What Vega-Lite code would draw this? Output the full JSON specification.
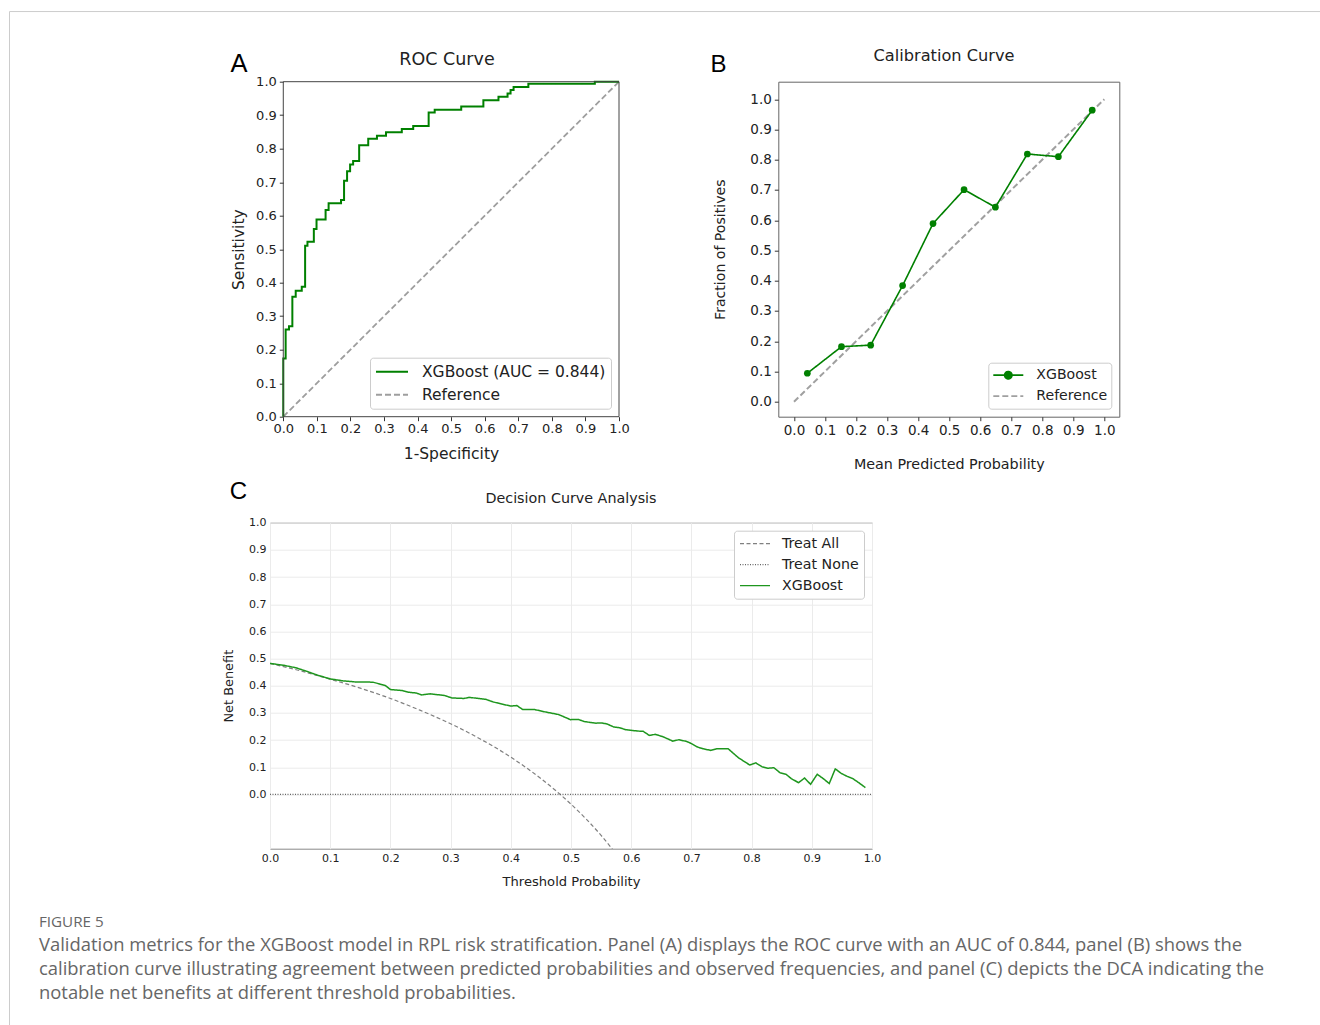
{
  "$schema": "https://vega.github.io/schema/vega-lite/v6.json",
  "autosize": {"type": "none"},
  "padding": {"left": 270, "top": 81.7, "right": 1050, "bottom": 943.3},
  "background": "white",
  "bounds": "flush",
  "spacing": 441,
  "resolve": {
    "scale": {"x": "independent", "y": "independent", "color": "independent", "strokeDash": "independent"},
    "legend": {"color": "independent", "strokeDash": "independent"}
  },
  "title": {
    "text": "FIGURE 5",
    "subtitle": [
      "Validation metrics for the XGBoost model in RPL risk stratification. Panel (A) displays the ROC curve with an AUC of 0.844, panel (B) shows the",
      "calibration curve illustrating agreement between predicted probabilities and observed frequencies, and panel (C) depicts the DCA indicating the",
      "notable net benefits at different threshold probabilities."
    ],
    "orient": "bottom",
    "anchor": "start",
    "frame": "group",
    "dx": -231,
    "offset": -115.5,
    "font": "Open Sans",
    "fontSize": 15.2,
    "fontWeight": "normal",
    "color": "#666666",
    "subtitleFont": "Open Sans",
    "subtitleFontSize": 18.4,
    "subtitleColor": "#666666",
    "subtitleLineHeight": 24,
    "subtitlePadding": 5
  },
  "config": {
    "view": {"stroke": null},
    "font": "DejaVu Sans",
    "axis": {
      "labelFont": "DejaVu Sans", "titleFont": "DejaVu Sans", "titleFontWeight": "normal",
      "labelColor": "#222222", "titleColor": "#222222", "grid": false,
      "labelFlush": false, "labelOverlap": false, "labelBound": false,
      "tickColor": "#333333", "domainColor": "#333333", "tickWidth": 1
    },
    "legend": {"labelFont": "DejaVu Sans", "labelColor": "#222222", "labelLimit": 400}
  },
  "datasets": {
    "roc": [
      {"fpr": 0, "tpr": 0, "series": "XGBoost (AUC = 0.844)"},
      {"fpr": 0, "tpr": 0.174, "series": "XGBoost (AUC = 0.844)"},
      {"fpr": 0.007, "tpr": 0.26, "series": "XGBoost (AUC = 0.844)"},
      {"fpr": 0.017, "tpr": 0.27, "series": "XGBoost (AUC = 0.844)"},
      {"fpr": 0.027, "tpr": 0.358, "series": "XGBoost (AUC = 0.844)"},
      {"fpr": 0.037, "tpr": 0.376, "series": "XGBoost (AUC = 0.844)"},
      {"fpr": 0.055, "tpr": 0.388, "series": "XGBoost (AUC = 0.844)"},
      {"fpr": 0.065, "tpr": 0.51, "series": "XGBoost (AUC = 0.844)"},
      {"fpr": 0.072, "tpr": 0.522, "series": "XGBoost (AUC = 0.844)"},
      {"fpr": 0.091, "tpr": 0.56, "series": "XGBoost (AUC = 0.844)"},
      {"fpr": 0.099, "tpr": 0.589, "series": "XGBoost (AUC = 0.844)"},
      {"fpr": 0.126, "tpr": 0.617, "series": "XGBoost (AUC = 0.844)"},
      {"fpr": 0.135, "tpr": 0.637, "series": "XGBoost (AUC = 0.844)"},
      {"fpr": 0.172, "tpr": 0.647, "series": "XGBoost (AUC = 0.844)"},
      {"fpr": 0.181, "tpr": 0.704, "series": "XGBoost (AUC = 0.844)"},
      {"fpr": 0.19, "tpr": 0.733, "series": "XGBoost (AUC = 0.844)"},
      {"fpr": 0.199, "tpr": 0.753, "series": "XGBoost (AUC = 0.844)"},
      {"fpr": 0.208, "tpr": 0.763, "series": "XGBoost (AUC = 0.844)"},
      {"fpr": 0.226, "tpr": 0.81, "series": "XGBoost (AUC = 0.844)"},
      {"fpr": 0.253, "tpr": 0.83, "series": "XGBoost (AUC = 0.844)"},
      {"fpr": 0.279, "tpr": 0.839, "series": "XGBoost (AUC = 0.844)"},
      {"fpr": 0.306, "tpr": 0.849, "series": "XGBoost (AUC = 0.844)"},
      {"fpr": 0.353, "tpr": 0.859, "series": "XGBoost (AUC = 0.844)"},
      {"fpr": 0.387, "tpr": 0.868, "series": "XGBoost (AUC = 0.844)"},
      {"fpr": 0.433, "tpr": 0.908, "series": "XGBoost (AUC = 0.844)"},
      {"fpr": 0.451, "tpr": 0.916, "series": "XGBoost (AUC = 0.844)"},
      {"fpr": 0.53, "tpr": 0.926, "series": "XGBoost (AUC = 0.844)"},
      {"fpr": 0.596, "tpr": 0.945, "series": "XGBoost (AUC = 0.844)"},
      {"fpr": 0.641, "tpr": 0.955, "series": "XGBoost (AUC = 0.844)"},
      {"fpr": 0.668, "tpr": 0.965, "series": "XGBoost (AUC = 0.844)"},
      {"fpr": 0.677, "tpr": 0.975, "series": "XGBoost (AUC = 0.844)"},
      {"fpr": 0.686, "tpr": 0.984, "series": "XGBoost (AUC = 0.844)"},
      {"fpr": 0.73, "tpr": 0.994, "series": "XGBoost (AUC = 0.844)"},
      {"fpr": 0.928, "tpr": 1.0, "series": "XGBoost (AUC = 0.844)"},
      {"fpr": 1.0, "tpr": 1.0, "series": "XGBoost (AUC = 0.844)"}
    ],
    "rocRef": [
      {"fpr": 0, "tpr": 0, "series": "Reference"},
      {"fpr": 1, "tpr": 1, "series": "Reference"}
    ],
    "cal": [
      {"p": 0.043, "f": 0.094, "series": "XGBoost"},
      {"p": 0.153, "f": 0.182, "series": "XGBoost"},
      {"p": 0.247, "f": 0.187, "series": "XGBoost"},
      {"p": 0.350, "f": 0.384, "series": "XGBoost"},
      {"p": 0.448, "f": 0.589, "series": "XGBoost"},
      {"p": 0.548, "f": 0.701, "series": "XGBoost"},
      {"p": 0.649, "f": 0.643, "series": "XGBoost"},
      {"p": 0.752, "f": 0.819, "series": "XGBoost"},
      {"p": 0.852, "f": 0.810, "series": "XGBoost"},
      {"p": 0.961, "f": 0.964, "series": "XGBoost"}
    ],
    "calRef": [
      {"p": 0, "f": 0, "series": "Reference"},
      {"p": 1, "f": 1, "series": "Reference"}
    ],
    "dcaAll": [
      {"pt": 0, "nb": 0.482, "series": "Treat All"},
      {"pt": 0.05, "nb": 0.455, "series": "Treat All"},
      {"pt": 0.1, "nb": 0.424, "series": "Treat All"},
      {"pt": 0.15, "nb": 0.391, "series": "Treat All"},
      {"pt": 0.2, "nb": 0.353, "series": "Treat All"},
      {"pt": 0.25, "nb": 0.309, "series": "Treat All"},
      {"pt": 0.3, "nb": 0.26, "series": "Treat All"},
      {"pt": 0.35, "nb": 0.203, "series": "Treat All"},
      {"pt": 0.4, "nb": 0.137, "series": "Treat All"},
      {"pt": 0.45, "nb": 0.058, "series": "Treat All"},
      {"pt": 0.5, "nb": -0.036, "series": "Treat All"},
      {"pt": 0.55, "nb": -0.151, "series": "Treat All"},
      {"pt": 0.57, "nb": -0.205, "series": "Treat All"}
    ],
    "dcaNone": [
      {"pt": 0, "nb": 0, "series": "Treat None"},
      {"pt": 1, "nb": 0, "series": "Treat None"}
    ],
    "dcaModel": [
      {"pt": 0, "nb": 0.482, "series": "XGBoost"},
      {"pt": 0.023, "nb": 0.475, "series": "XGBoost"},
      {"pt": 0.043, "nb": 0.466, "series": "XGBoost"},
      {"pt": 0.061, "nb": 0.453, "series": "XGBoost"},
      {"pt": 0.08, "nb": 0.438, "series": "XGBoost"},
      {"pt": 0.1, "nb": 0.425, "series": "XGBoost"},
      {"pt": 0.121, "nb": 0.418, "series": "XGBoost"},
      {"pt": 0.141, "nb": 0.414, "series": "XGBoost"},
      {"pt": 0.171, "nb": 0.413, "series": "XGBoost"},
      {"pt": 0.181, "nb": 0.407, "series": "XGBoost"},
      {"pt": 0.192, "nb": 0.400, "series": "XGBoost"},
      {"pt": 0.2, "nb": 0.386, "series": "XGBoost"},
      {"pt": 0.22, "nb": 0.382, "series": "XGBoost"},
      {"pt": 0.23, "nb": 0.376, "series": "XGBoost"},
      {"pt": 0.243, "nb": 0.373, "series": "XGBoost"},
      {"pt": 0.252, "nb": 0.366, "series": "XGBoost"},
      {"pt": 0.266, "nb": 0.370, "series": "XGBoost"},
      {"pt": 0.29, "nb": 0.364, "series": "XGBoost"},
      {"pt": 0.302, "nb": 0.355, "series": "XGBoost"},
      {"pt": 0.322, "nb": 0.353, "series": "XGBoost"},
      {"pt": 0.331, "nb": 0.357, "series": "XGBoost"},
      {"pt": 0.358, "nb": 0.350, "series": "XGBoost"},
      {"pt": 0.371, "nb": 0.340, "series": "XGBoost"},
      {"pt": 0.39, "nb": 0.330, "series": "XGBoost"},
      {"pt": 0.4, "nb": 0.325, "series": "XGBoost"},
      {"pt": 0.41, "nb": 0.327, "series": "XGBoost"},
      {"pt": 0.42, "nb": 0.312, "series": "XGBoost"},
      {"pt": 0.44, "nb": 0.312, "series": "XGBoost"},
      {"pt": 0.456, "nb": 0.304, "series": "XGBoost"},
      {"pt": 0.479, "nb": 0.294, "series": "XGBoost"},
      {"pt": 0.492, "nb": 0.282, "series": "XGBoost"},
      {"pt": 0.499, "nb": 0.275, "series": "XGBoost"},
      {"pt": 0.512, "nb": 0.276, "series": "XGBoost"},
      {"pt": 0.522, "nb": 0.268, "series": "XGBoost"},
      {"pt": 0.541, "nb": 0.262, "series": "XGBoost"},
      {"pt": 0.551, "nb": 0.263, "series": "XGBoost"},
      {"pt": 0.56, "nb": 0.259, "series": "XGBoost"},
      {"pt": 0.571, "nb": 0.248, "series": "XGBoost"},
      {"pt": 0.581, "nb": 0.245, "series": "XGBoost"},
      {"pt": 0.591, "nb": 0.238, "series": "XGBoost"},
      {"pt": 0.611, "nb": 0.233, "series": "XGBoost"},
      {"pt": 0.62, "nb": 0.232, "series": "XGBoost"},
      {"pt": 0.63, "nb": 0.217, "series": "XGBoost"},
      {"pt": 0.64, "nb": 0.221, "series": "XGBoost"},
      {"pt": 0.653, "nb": 0.212, "series": "XGBoost"},
      {"pt": 0.669, "nb": 0.196, "series": "XGBoost"},
      {"pt": 0.679, "nb": 0.201, "series": "XGBoost"},
      {"pt": 0.692, "nb": 0.195, "series": "XGBoost"},
      {"pt": 0.699, "nb": 0.188, "series": "XGBoost"},
      {"pt": 0.709, "nb": 0.175, "series": "XGBoost"},
      {"pt": 0.719, "nb": 0.168, "series": "XGBoost"},
      {"pt": 0.732, "nb": 0.162, "series": "XGBoost"},
      {"pt": 0.742, "nb": 0.168, "series": "XGBoost"},
      {"pt": 0.761, "nb": 0.168, "series": "XGBoost"},
      {"pt": 0.778, "nb": 0.135, "series": "XGBoost"},
      {"pt": 0.797, "nb": 0.108, "series": "XGBoost"},
      {"pt": 0.807, "nb": 0.116, "series": "XGBoost"},
      {"pt": 0.817, "nb": 0.102, "series": "XGBoost"},
      {"pt": 0.827, "nb": 0.096, "series": "XGBoost"},
      {"pt": 0.837, "nb": 0.098, "series": "XGBoost"},
      {"pt": 0.847, "nb": 0.080, "series": "XGBoost"},
      {"pt": 0.857, "nb": 0.074, "series": "XGBoost"},
      {"pt": 0.866, "nb": 0.058, "series": "XGBoost"},
      {"pt": 0.878, "nb": 0.043, "series": "XGBoost"},
      {"pt": 0.888, "nb": 0.060, "series": "XGBoost"},
      {"pt": 0.898, "nb": 0.037, "series": "XGBoost"},
      {"pt": 0.909, "nb": 0.074, "series": "XGBoost"},
      {"pt": 0.919, "nb": 0.058, "series": "XGBoost"},
      {"pt": 0.929, "nb": 0.040, "series": "XGBoost"},
      {"pt": 0.939, "nb": 0.094, "series": "XGBoost"},
      {"pt": 0.949, "nb": 0.077, "series": "XGBoost"},
      {"pt": 0.958, "nb": 0.067, "series": "XGBoost"},
      {"pt": 0.968, "nb": 0.058, "series": "XGBoost"},
      {"pt": 0.978, "nb": 0.043, "series": "XGBoost"},
      {"pt": 0.989, "nb": 0.025, "series": "XGBoost"}
    ]
  },
  "vconcat": [
    {
      "bounds": "flush",
      "spacing": 159.3,
      "resolve": {
        "scale": {"x": "independent", "y": "independent", "color": "independent", "strokeDash": "independent"},
        "legend": {"color": "independent", "strokeDash": "independent"}
      },
      "hconcat": [
        {
          "width": 349,
          "height": 335,
          "layer": [
            {
              "data": {"name": "rocRef"},
              "mark": {"type": "line", "strokeWidth": 1.8},
              "encoding": {
                "x": {"field": "fpr", "type": "quantitative",
                  "scale": {"domain": [-0.0396, 1], "nice": false, "zero": false},
                  "axis": {"values": [0, 0.1, 0.2, 0.3, 0.4, 0.5, 0.6, 0.7, 0.8, 0.9, 1.0], "format": ".1f", "domain": false,
                    "tickSize": 4, "labelFontSize": 13, "labelPadding": 2, "title": "1-Specificity", "titleFontSize": 15.5, "titlePadding": 11, "titleX": 181}},
                "y": {"field": "tpr", "type": "quantitative",
                  "scale": {"domain": [0, 1], "nice": false, "zero": false},
                  "axis": {"values": [0, 0.1, 0.2, 0.3, 0.4, 0.5, 0.6, 0.7, 0.8, 0.9, 1.0], "format": ".1f", "domain": false, "offset": -13.3,
                    "tickSize": 4, "labelFontSize": 13, "labelPadding": 3, "title": "Sensitivity", "titleFontSize": 15.5, "titlePadding": 9}},
                "color": {"field": "series", "type": "nominal",
                  "scale": {"domain": ["XGBoost (AUC = 0.844)", "Reference"], "range": ["#008000", "#9e9e9e"]},
                  "legend": {"title": null, "orient": "bottom-right", "offset": 8, "fillColor": "white", "strokeColor": "#cccccc", "cornerRadius": 3,
                    "padding": 5, "symbolType": "stroke", "symbolSize": 1024, "symbolStrokeWidth": 2, "clipHeight": 18, "rowPadding": 5,
                    "labelFontSize": 15.5, "labelOffset": 13}},
                "strokeDash": {"field": "series", "type": "nominal",
                  "scale": {"domain": ["XGBoost (AUC = 0.844)", "Reference"], "range": [[1, 0], [6, 3]]},
                  "legend": {"title": null, "orient": "bottom-right", "offset": 8, "fillColor": "white", "strokeColor": "#cccccc", "cornerRadius": 3,
                    "padding": 5, "symbolType": "stroke", "symbolSize": 1024, "symbolStrokeWidth": 2, "clipHeight": 18, "rowPadding": 5,
                    "labelFontSize": 15.5, "labelOffset": 13}}
              }
            },
            {
              "data": {"name": "roc"},
              "mark": {"type": "line", "interpolate": "step-after", "strokeWidth": 2},
              "encoding": {
                "x": {"field": "fpr", "type": "quantitative",
                  "scale": {"domain": [-0.0396, 1], "nice": false, "zero": false},
                  "axis": {"values": [0, 0.1, 0.2, 0.3, 0.4, 0.5, 0.6, 0.7, 0.8, 0.9, 1.0], "format": ".1f", "domain": false,
                    "tickSize": 4, "labelFontSize": 13, "labelPadding": 2, "title": "1-Specificity", "titleFontSize": 15.5, "titlePadding": 11, "titleX": 181}},
                "y": {"field": "tpr", "type": "quantitative",
                  "scale": {"domain": [0, 1], "nice": false, "zero": false},
                  "axis": {"values": [0, 0.1, 0.2, 0.3, 0.4, 0.5, 0.6, 0.7, 0.8, 0.9, 1.0], "format": ".1f", "domain": false, "offset": -13.3,
                    "tickSize": 4, "labelFontSize": 13, "labelPadding": 3, "title": "Sensitivity", "titleFontSize": 15.5, "titlePadding": 9}},
                "color": {"field": "series", "type": "nominal"},
                "strokeDash": {"field": "series", "type": "nominal"}
              }
            },
            {
              "data": {"values": [{"part": "frame"}]},
              "mark": {"type": "rect", "fill": "transparent", "stroke": "#444444", "strokeWidth": 1},
              "encoding": {
                "x": {"datum": 0, "type": "quantitative",
                  "scale": {"domain": [-0.0396, 1], "nice": false, "zero": false},
                  "axis": {"values": [0, 0.1, 0.2, 0.3, 0.4, 0.5, 0.6, 0.7, 0.8, 0.9, 1.0], "format": ".1f", "domain": false,
                    "tickSize": 4, "labelFontSize": 13, "labelPadding": 2, "title": "1-Specificity", "titleFontSize": 15.5, "titlePadding": 11, "titleX": 181}},
                "x2": {"datum": 1},
                "y": {"datum": 0, "type": "quantitative",
                  "scale": {"domain": [0, 1], "nice": false, "zero": false},
                  "axis": {"values": [0, 0.1, 0.2, 0.3, 0.4, 0.5, 0.6, 0.7, 0.8, 0.9, 1.0], "format": ".1f", "domain": false, "offset": -13.3,
                    "tickSize": 4, "labelFontSize": 13, "labelPadding": 3, "title": "Sensitivity", "titleFontSize": 15.5, "titlePadding": 9}},
                "y2": {"datum": 1}
              }
            },
            {
              "data": {"values": [{"label": "A"}]},
              "mark": {"type": "text", "font": "Liberation Sans", "fontSize": 25.5, "color": "#000000", "align": "center", "baseline": "middle"},
              "encoding": {
                "text": {"field": "label"},
                "x": {"datum": -0.132, "type": "quantitative",
                  "scale": {"domain": [-0.0396, 1], "nice": false, "zero": false},
                  "axis": {"values": [0, 0.1, 0.2, 0.3, 0.4, 0.5, 0.6, 0.7, 0.8, 0.9, 1.0], "format": ".1f", "domain": false,
                    "tickSize": 4, "labelFontSize": 13, "labelPadding": 2, "title": "1-Specificity", "titleFontSize": 15.5, "titlePadding": 11, "titleX": 181}},
                "y": {"datum": 1.0528, "type": "quantitative",
                  "scale": {"domain": [0, 1], "nice": false, "zero": false},
                  "axis": {"values": [0, 0.1, 0.2, 0.3, 0.4, 0.5, 0.6, 0.7, 0.8, 0.9, 1.0], "format": ".1f", "domain": false, "offset": -13.3,
                    "tickSize": 4, "labelFontSize": 13, "labelPadding": 3, "title": "Sensitivity", "titleFontSize": 15.5, "titlePadding": 9}}
              }
            },
            {
              "data": {"values": [{"label": "ROC Curve"}]},
              "mark": {"type": "text", "font": "DejaVu Sans", "fontSize": 17.5, "color": "#222222", "align": "center", "baseline": "middle"},
              "encoding": {
                "text": {"field": "label"},
                "x": {"datum": 0.4877, "type": "quantitative",
                  "scale": {"domain": [-0.0396, 1], "nice": false, "zero": false},
                  "axis": {"values": [0, 0.1, 0.2, 0.3, 0.4, 0.5, 0.6, 0.7, 0.8, 0.9, 1.0], "format": ".1f", "domain": false,
                    "tickSize": 4, "labelFontSize": 13, "labelPadding": 2, "title": "1-Specificity", "titleFontSize": 15.5, "titlePadding": 11, "titleX": 181}},
                "y": {"datum": 1.0648, "type": "quantitative",
                  "scale": {"domain": [0, 1], "nice": false, "zero": false},
                  "axis": {"values": [0, 0.1, 0.2, 0.3, 0.4, 0.5, 0.6, 0.7, 0.8, 0.9, 1.0], "format": ".1f", "domain": false, "offset": -13.3,
                    "tickSize": 4, "labelFontSize": 13, "labelPadding": 3, "title": "Sensitivity", "titleFontSize": 15.5, "titlePadding": 9}}
              }
            }
          ]
        },
        {
          "width": 341,
          "height": 335,
          "view": {"stroke": "#666666", "strokeWidth": 1},
          "layer": [
            {
              "data": {"name": "calRef"},
              "mark": {"type": "line", "strokeWidth": 2},
              "encoding": {
                "x": {"field": "p", "type": "quantitative",
                  "scale": {"domain": [-0.0506, 1.0483], "nice": false, "zero": false},
                  "axis": {"values": [0, 0.1, 0.2, 0.3, 0.4, 0.5, 0.6, 0.7, 0.8, 0.9, 1.0], "format": ".1f", "domain": false,
                    "tickSize": 4, "labelFontSize": 13.5, "labelPadding": 3, "title": "Mean Predicted Probability", "titleFontSize": 14.3, "titlePadding": 20}},
                "y": {"field": "f", "type": "quantitative",
                  "scale": {"domain": [-0.0496, 1.058], "nice": false, "zero": false},
                  "axis": {"values": [0, 0.1, 0.2, 0.3, 0.4, 0.5, 0.6, 0.7, 0.8, 0.9, 1.0], "format": ".1f", "domain": false,
                    "tickSize": 4, "labelFontSize": 13.5, "labelPadding": 3, "title": "Fraction of Positives", "titleFontSize": 14.1, "titlePadding": 22}},
                "color": {"field": "series", "type": "nominal",
                  "scale": {"domain": ["XGBoost", "Reference"], "range": ["#008000", "#a0a0a0"]},
                  "legend": {"title": null, "orient": "bottom-right", "offset": 8, "fillColor": "white", "strokeColor": "#cccccc", "cornerRadius": 3,
                    "padding": 4, "symbolType": "stroke", "symbolSize": 900, "symbolStrokeWidth": 1.8, "clipHeight": 17, "rowPadding": 4,
                    "labelFontSize": 14.1, "labelOffset": 12,
                    "encode": {"symbols": {"update": {
                      "shape": {"signal": "datum.value === 'XGBoost' ? 'M-1,0H1M-0.24,0A0.24,0.24,0,1,0,0.24,0A0.24,0.24,0,1,0,-0.24,0Z' : 'stroke'"},
                      "fill": {"signal": "datum.value === 'XGBoost' ? '#008000' : 'transparent'"}}}}}},
                "strokeDash": {"field": "series", "type": "nominal",
                  "scale": {"domain": ["XGBoost", "Reference"], "range": [[1, 0], [6, 3]]},
                  "legend": {"title": null, "orient": "bottom-right", "offset": 8, "fillColor": "white", "strokeColor": "#cccccc", "cornerRadius": 3,
                    "padding": 4, "symbolType": "stroke", "symbolSize": 900, "symbolStrokeWidth": 1.8, "clipHeight": 17, "rowPadding": 4,
                    "labelFontSize": 14.1, "labelOffset": 12,
                    "encode": {"symbols": {"update": {
                      "shape": {"signal": "datum.value === 'XGBoost' ? 'M-1,0H1M-0.24,0A0.24,0.24,0,1,0,0.24,0A0.24,0.24,0,1,0,-0.24,0Z' : 'stroke'"},
                      "fill": {"signal": "datum.value === 'XGBoost' ? '#008000' : 'transparent'"}}}}}}
              }
            },
            {
              "data": {"name": "cal"},
              "mark": {"type": "line", "strokeWidth": 1.6},
              "encoding": {
                "x": {"field": "p", "type": "quantitative",
                  "scale": {"domain": [-0.0506, 1.0483], "nice": false, "zero": false},
                  "axis": {"values": [0, 0.1, 0.2, 0.3, 0.4, 0.5, 0.6, 0.7, 0.8, 0.9, 1.0], "format": ".1f", "domain": false,
                    "tickSize": 4, "labelFontSize": 13.5, "labelPadding": 3, "title": "Mean Predicted Probability", "titleFontSize": 14.3, "titlePadding": 20}},
                "y": {"field": "f", "type": "quantitative",
                  "scale": {"domain": [-0.0496, 1.058], "nice": false, "zero": false},
                  "axis": {"values": [0, 0.1, 0.2, 0.3, 0.4, 0.5, 0.6, 0.7, 0.8, 0.9, 1.0], "format": ".1f", "domain": false,
                    "tickSize": 4, "labelFontSize": 13.5, "labelPadding": 3, "title": "Fraction of Positives", "titleFontSize": 14.1, "titlePadding": 22}},
                "color": {"field": "series", "type": "nominal"},
                "strokeDash": {"field": "series", "type": "nominal"}
              }
            },
            {
              "data": {"name": "cal"},
              "mark": {"type": "point", "filled": true, "size": 45, "color": "#008000", "opacity": 1},
              "encoding": {
                "x": {"field": "p", "type": "quantitative",
                  "scale": {"domain": [-0.0506, 1.0483], "nice": false, "zero": false},
                  "axis": {"values": [0, 0.1, 0.2, 0.3, 0.4, 0.5, 0.6, 0.7, 0.8, 0.9, 1.0], "format": ".1f", "domain": false,
                    "tickSize": 4, "labelFontSize": 13.5, "labelPadding": 3, "title": "Mean Predicted Probability", "titleFontSize": 14.3, "titlePadding": 20}},
                "y": {"field": "f", "type": "quantitative",
                  "scale": {"domain": [-0.0496, 1.058], "nice": false, "zero": false},
                  "axis": {"values": [0, 0.1, 0.2, 0.3, 0.4, 0.5, 0.6, 0.7, 0.8, 0.9, 1.0], "format": ".1f", "domain": false,
                    "tickSize": 4, "labelFontSize": 13.5, "labelPadding": 3, "title": "Fraction of Positives", "titleFontSize": 14.1, "titlePadding": 22}}
              }
            },
            {
              "data": {"values": [{"label": "B"}]},
              "mark": {"type": "text", "font": "Liberation Sans", "fontSize": 24, "color": "#000000", "align": "center", "baseline": "middle"},
              "encoding": {
                "text": {"field": "label"},
                "x": {"datum": -0.243, "type": "quantitative",
                  "scale": {"domain": [-0.0506, 1.0483], "nice": false, "zero": false},
                  "axis": {"values": [0, 0.1, 0.2, 0.3, 0.4, 0.5, 0.6, 0.7, 0.8, 0.9, 1.0], "format": ".1f", "domain": false,
                    "tickSize": 4, "labelFontSize": 13.5, "labelPadding": 3, "title": "Mean Predicted Probability", "titleFontSize": 14.3, "titlePadding": 20}},
                "y": {"datum": 1.113, "type": "quantitative",
                  "scale": {"domain": [-0.0496, 1.058], "nice": false, "zero": false},
                  "axis": {"values": [0, 0.1, 0.2, 0.3, 0.4, 0.5, 0.6, 0.7, 0.8, 0.9, 1.0], "format": ".1f", "domain": false,
                    "tickSize": 4, "labelFontSize": 13.5, "labelPadding": 3, "title": "Fraction of Positives", "titleFontSize": 14.1, "titlePadding": 22}}
              }
            },
            {
              "data": {"values": [{"label": "Calibration Curve"}]},
              "mark": {"type": "text", "font": "DejaVu Sans", "fontSize": 16.2, "color": "#222222", "align": "center", "baseline": "middle"},
              "encoding": {
                "text": {"field": "label"},
                "x": {"datum": 0.4834, "type": "quantitative",
                  "scale": {"domain": [-0.0506, 1.0483], "nice": false, "zero": false},
                  "axis": {"values": [0, 0.1, 0.2, 0.3, 0.4, 0.5, 0.6, 0.7, 0.8, 0.9, 1.0], "format": ".1f", "domain": false,
                    "tickSize": 4, "labelFontSize": 13.5, "labelPadding": 3, "title": "Mean Predicted Probability", "titleFontSize": 14.3, "titlePadding": 20}},
                "y": {"datum": 1.142, "type": "quantitative",
                  "scale": {"domain": [-0.0496, 1.058], "nice": false, "zero": false},
                  "axis": {"values": [0, 0.1, 0.2, 0.3, 0.4, 0.5, 0.6, 0.7, 0.8, 0.9, 1.0], "format": ".1f", "domain": false,
                    "tickSize": 4, "labelFontSize": 13.5, "labelPadding": 3, "title": "Fraction of Positives", "titleFontSize": 14.1, "titlePadding": 22}}
              }
            }
          ]
        }
      ]
    },
    {
      "width": 602,
      "height": 326,
      "view": {"stroke": "#888888", "strokeWidth": 1},
      "layer": [
        {
          "data": {"values": [{"part": "page border"}]},
          "mark": {"type": "rect", "fill": "transparent", "stroke": "#cccccc", "strokeWidth": 1},
          "encoding": {
            "x": {"datum": -0.43272, "type": "quantitative",
              "scale": {"domain": [0, 1], "nice": false, "zero": false},
              "axis": {"values": [0, 0.1, 0.2, 0.3, 0.4, 0.5, 0.6, 0.7, 0.8, 0.9, 1.0], "format": ".1f", "domain": false, "ticks": false,
                "grid": true, "gridColor": "#ebebeb", "gridWidth": 1,
                "labelFontSize": 11, "labelPadding": 4, "title": "Threshold Probability", "titleFontSize": 13.1, "titlePadding": 12}},
            "x2": {"datum": 1.761},
            "y": {"datum": 2.8815, "type": "quantitative",
              "scale": {"domain": [-0.2, 1.0], "nice": false, "zero": false},
              "axis": {"values": [0, 0.1, 0.2, 0.3, 0.4, 0.5, 0.6, 0.7, 0.8, 0.9, 1.0], "format": ".1f", "domain": false, "ticks": false,
                "grid": true, "gridColor": "#ebebeb", "gridWidth": 1,
                "labelFontSize": 11, "labelPadding": 4, "title": "Net Benefit", "titleFontSize": 12.9, "titlePadding": 13}},
            "y2": {"datum": -0.867}
          }
        },
        {
          "data": {"name": "dcaAll"},
          "mark": {"type": "line", "strokeWidth": 1.2, "interpolate": "monotone", "clip": true},
          "encoding": {
            "x": {"field": "pt", "type": "quantitative",
              "scale": {"domain": [0, 1], "nice": false, "zero": false},
              "axis": {"values": [0, 0.1, 0.2, 0.3, 0.4, 0.5, 0.6, 0.7, 0.8, 0.9, 1.0], "format": ".1f", "domain": false, "ticks": false,
                "grid": true, "gridColor": "#ebebeb", "gridWidth": 1,
                "labelFontSize": 11, "labelPadding": 4, "title": "Threshold Probability", "titleFontSize": 13.1, "titlePadding": 12}},
            "y": {"field": "nb", "type": "quantitative",
              "scale": {"domain": [-0.2, 1.0], "nice": false, "zero": false},
              "axis": {"values": [0, 0.1, 0.2, 0.3, 0.4, 0.5, 0.6, 0.7, 0.8, 0.9, 1.0], "format": ".1f", "domain": false, "ticks": false,
                "grid": true, "gridColor": "#ebebeb", "gridWidth": 1,
                "labelFontSize": 11, "labelPadding": 4, "title": "Net Benefit", "titleFontSize": 12.9, "titlePadding": 13}},
            "color": {"field": "series", "type": "nominal",
              "scale": {"domain": ["Treat All", "Treat None", "XGBoost"], "range": ["#808080", "#666666", "#1e961e"]},
              "legend": {"title": null, "orient": "top-right", "offset": 8, "fillColor": "white", "strokeColor": "#cccccc", "cornerRadius": 3,
                "padding": 5, "symbolType": "stroke", "symbolSize": 900, "symbolStrokeWidth": 1.3, "clipHeight": 16, "rowPadding": 5,
                "labelFontSize": 14.2, "labelOffset": 11}},
            "strokeDash": {"field": "series", "type": "nominal",
              "scale": {"domain": ["Treat All", "Treat None", "XGBoost"], "range": [[4, 2.5], [1, 1.5], [1, 0]]},
              "legend": {"title": null, "orient": "top-right", "offset": 8, "fillColor": "white", "strokeColor": "#cccccc", "cornerRadius": 3,
                "padding": 5, "symbolType": "stroke", "symbolSize": 900, "symbolStrokeWidth": 1.3, "clipHeight": 16, "rowPadding": 5,
                "labelFontSize": 14.2, "labelOffset": 11}}
          }
        },
        {
          "data": {"name": "dcaNone"},
          "mark": {"type": "line", "strokeWidth": 1.2},
          "encoding": {
            "x": {"field": "pt", "type": "quantitative",
              "scale": {"domain": [0, 1], "nice": false, "zero": false},
              "axis": {"values": [0, 0.1, 0.2, 0.3, 0.4, 0.5, 0.6, 0.7, 0.8, 0.9, 1.0], "format": ".1f", "domain": false, "ticks": false,
                "grid": true, "gridColor": "#ebebeb", "gridWidth": 1,
                "labelFontSize": 11, "labelPadding": 4, "title": "Threshold Probability", "titleFontSize": 13.1, "titlePadding": 12}},
            "y": {"field": "nb", "type": "quantitative",
              "scale": {"domain": [-0.2, 1.0], "nice": false, "zero": false},
              "axis": {"values": [0, 0.1, 0.2, 0.3, 0.4, 0.5, 0.6, 0.7, 0.8, 0.9, 1.0], "format": ".1f", "domain": false, "ticks": false,
                "grid": true, "gridColor": "#ebebeb", "gridWidth": 1,
                "labelFontSize": 11, "labelPadding": 4, "title": "Net Benefit", "titleFontSize": 12.9, "titlePadding": 13}},
            "color": {"field": "series", "type": "nominal"},
            "strokeDash": {"field": "series", "type": "nominal"}
          }
        },
        {
          "data": {"name": "dcaModel"},
          "mark": {"type": "line", "strokeWidth": 1.5},
          "encoding": {
            "x": {"field": "pt", "type": "quantitative",
              "scale": {"domain": [0, 1], "nice": false, "zero": false},
              "axis": {"values": [0, 0.1, 0.2, 0.3, 0.4, 0.5, 0.6, 0.7, 0.8, 0.9, 1.0], "format": ".1f", "domain": false, "ticks": false,
                "grid": true, "gridColor": "#ebebeb", "gridWidth": 1,
                "labelFontSize": 11, "labelPadding": 4, "title": "Threshold Probability", "titleFontSize": 13.1, "titlePadding": 12}},
            "y": {"field": "nb", "type": "quantitative",
              "scale": {"domain": [-0.2, 1.0], "nice": false, "zero": false},
              "axis": {"values": [0, 0.1, 0.2, 0.3, 0.4, 0.5, 0.6, 0.7, 0.8, 0.9, 1.0], "format": ".1f", "domain": false, "ticks": false,
                "grid": true, "gridColor": "#ebebeb", "gridWidth": 1,
                "labelFontSize": 11, "labelPadding": 4, "title": "Net Benefit", "titleFontSize": 12.9, "titlePadding": 13}},
            "color": {"field": "series", "type": "nominal"},
            "strokeDash": {"field": "series", "type": "nominal"}
          }
        },
        {
          "data": {"values": [{"label": "C"}]},
          "mark": {"type": "text", "font": "Liberation Sans", "fontSize": 24, "color": "#000000", "align": "center", "baseline": "middle"},
          "encoding": {
            "text": {"field": "label"},
            "x": {"datum": -0.0523, "type": "quantitative",
              "scale": {"domain": [0, 1], "nice": false, "zero": false},
              "axis": {"values": [0, 0.1, 0.2, 0.3, 0.4, 0.5, 0.6, 0.7, 0.8, 0.9, 1.0], "format": ".1f", "domain": false, "ticks": false,
                "grid": true, "gridColor": "#ebebeb", "gridWidth": 1,
                "labelFontSize": 11, "labelPadding": 4, "title": "Threshold Probability", "titleFontSize": 13.1, "titlePadding": 12}},
            "y": {"datum": 1.114, "type": "quantitative",
              "scale": {"domain": [-0.2, 1.0], "nice": false, "zero": false},
              "axis": {"values": [0, 0.1, 0.2, 0.3, 0.4, 0.5, 0.6, 0.7, 0.8, 0.9, 1.0], "format": ".1f", "domain": false, "ticks": false,
                "grid": true, "gridColor": "#ebebeb", "gridWidth": 1,
                "labelFontSize": 11, "labelPadding": 4, "title": "Net Benefit", "titleFontSize": 12.9, "titlePadding": 13}}
          }
        },
        {
          "data": {"values": [{"label": "Decision Curve Analysis"}]},
          "mark": {"type": "text", "font": "DejaVu Sans", "fontSize": 14.3, "color": "#222222", "align": "center", "baseline": "middle"},
          "encoding": {
            "text": {"field": "label"},
            "x": {"datum": 0.5, "type": "quantitative",
              "scale": {"domain": [0, 1], "nice": false, "zero": false},
              "axis": {"values": [0, 0.1, 0.2, 0.3, 0.4, 0.5, 0.6, 0.7, 0.8, 0.9, 1.0], "format": ".1f", "domain": false, "ticks": false,
                "grid": true, "gridColor": "#ebebeb", "gridWidth": 1,
                "labelFontSize": 11, "labelPadding": 4, "title": "Threshold Probability", "titleFontSize": 13.1, "titlePadding": 12}},
            "y": {"datum": 1.089, "type": "quantitative",
              "scale": {"domain": [-0.2, 1.0], "nice": false, "zero": false},
              "axis": {"values": [0, 0.1, 0.2, 0.3, 0.4, 0.5, 0.6, 0.7, 0.8, 0.9, 1.0], "format": ".1f", "domain": false, "ticks": false,
                "grid": true, "gridColor": "#ebebeb", "gridWidth": 1,
                "labelFontSize": 11, "labelPadding": 4, "title": "Net Benefit", "titleFontSize": 12.9, "titlePadding": 13}}
          }
        }
      ]
    }
  ]
}
